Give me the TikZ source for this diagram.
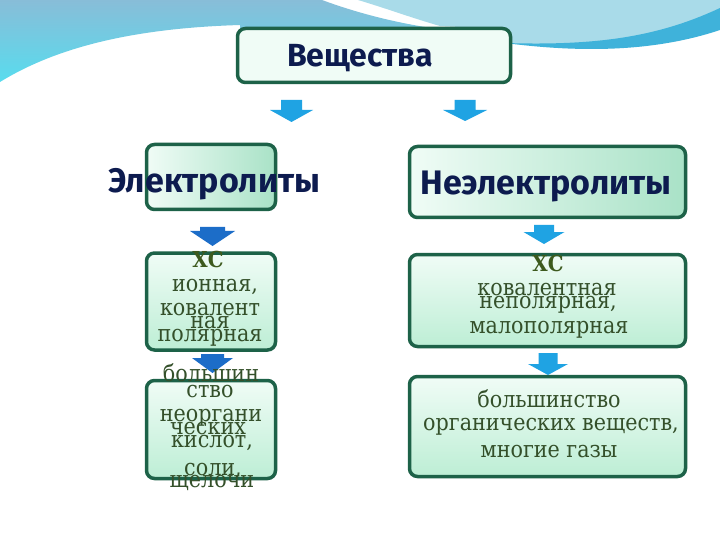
\documentclass[tikz,border=0pt]{standalone}
\usepackage{fontspec}
\setmainfont{DejaVu Serif Condensed}
\newfontfamily\headfont{Fira Sans}
\definecolor{bord}{HTML}{1D6248}
\definecolor{navy}{HTML}{0D1B4F}
\definecolor{txtg}{HTML}{34502A}
\definecolor{xsg}{HTML}{3D5A1E}
\definecolor{arrl}{HTML}{1FA3E3}
\definecolor{arrd}{HTML}{1C6DC8}
\definecolor{bgtop}{HTML}{88BDD8}
\definecolor{bgcyan}{HTML}{58DCEE}
\definecolor{bglight}{HTML}{A9DBE9}
\definecolor{bgband}{HTML}{3FB2DA}
\definecolor{mintA}{HTML}{F0FCF6}
\definecolor{mintB}{HTML}{BDEED5}
\definecolor{mintC}{HTML}{A9E2C7}
\tikzset{pics/barr/.style args={#1/#2/#3/#4/#5}{code={
  \fill[#5] ({-(#3)/2},0) -- ({(#3)/2},0) -- ({(#3)/2},#4) -- ({(#1)/2},#4) -- (0,#2)
    -- ({-(#1)/2},#4) -- ({-(#3)/2},#4) -- cycle;}}}
\begin{document}
\begin{tikzpicture}[x=1pt,y=-1pt,
  box/.style={draw=bord, line width=3.5pt, rounded corners=8pt, inner sep=0pt, outer sep=0pt},
  hshade/.style={left color=mintA, right color=mintC},
  tshade/.style={left color=mintA, middle color=mintB, right color=mintA},
  vshade/.style={top color=mintA, bottom color=mintB},
  head/.style={font=\headfont\bfseries\fontsize{34}{40}\selectfont, text=navy, inner sep=0pt, anchor=base},
  body/.style={font=\fontsize{23}{26}\selectfont, text=txtg, inner sep=0pt, anchor=base},
  xs/.style={font=\bfseries\fontsize{22}{26}\selectfont, text=xsg, inner sep=0pt, anchor=base}
]
\useasboundingbox (0,0) rectangle (720,540);
\fill[white] (0,0) rectangle (720,540);
% background top
\shade[top color=bgtop, bottom color=bgcyan]
  (0,0) -- (322,0) .. controls (360,14) and (400,24) .. (445,30) -- (445,45) -- (240,45) -- (240,25)
  .. controls (140,28) and (60,45) .. (0,82) -- cycle;
\fill[bglight]
  (358,0) -- (720,0) -- (720,10) .. controls (660,36) and (600,46) .. (515,44) -- (480,44) -- (480,28)
  -- (440,26) .. controls (412,18) and (385,8) .. (358,0) -- cycle;
\fill[bgband]
  (720,8) .. controls (660,36) and (600,46) .. (505,43)
  .. controls (590,54) and (660,50) .. (720,30) -- cycle;
% boxes
\node[box, tshade, minimum width=273pt, minimum height=54pt] (vesh) at (374,55.5) {};
\node[box, hshade, minimum width=129pt, minimum height=65pt] (el) at (211,177) {};
\node[box, hshade, minimum width=276pt, minimum height=71pt] (nel) at (547.5,182) {};
\node[box, vshade, minimum width=129pt, minimum height=97pt] (lb2) at (211,301.5) {};
\node[box, vshade, minimum width=129pt, minimum height=98pt] (lb3) at (211,429.5) {};
\node[box, vshade, minimum width=276pt, minimum height=92pt] (rb2) at (547.5,300.5) {};
\node[box, vshade, minimum width=276pt, minimum height=100pt] (rb3) at (547.5,426.5) {};
% arrows
\pic (a1) at (291.5,100) {barr={43/22/21/10/arrl}};
\pic (a2) at (465,100) {barr={44/21/21/10/arrl}};
\pic (a3) at (212.5,227) {barr={45/19/25/4/arrd}};
\pic (a4) at (212.5,354) {barr={41/19/23/4/arrd}};
\pic (a5) at (544,225) {barr={41/19/20/7/arrl}};
\pic (a6) at (548,353) {barr={40/22/19/11/arrl}};
% headings
\node[head, font=\headfont\bfseries\fontsize{32}{38}\selectfont] (tv) at (360,67) {Вещества};
\node[head] (te) at (214,193) {Электролиты};
\node[head] (tn) at (546,195) {Неэлектролиты};
% left box 2
\node[xs] (lx) at (208,267) {ХС};
\node[body] (l1) at (215,291) {ионная,};
\node[body] (l2) at (210,315) {ковалент};
\node[body] (l3) at (210,328) {ная};
\node[body] (l4) at (210,341) {полярная};
% left box 3
\node[body] (m1) at (211,381) {большин};
\node[body] (m2) at (210,397) {ство};
\node[body] (m3) at (211,421) {неоргани};
\node[body] (m4) at (208,434) {ческих};
\node[body] (m5) at (212,447) {кислот,};
\node[body] (m6) at (213,475) {соли,};
\node[body] (m7) at (212,487) {щелочи};
% right box 2
\node[xs] (rx) at (548,271) {ХС};
\node[body] (r1) at (547,295) {ковалентная};
\node[body] (r2) at (548,308) {неполярная,};
\node[body] (r3) at (549,333) {малополярная};
% right box 3
\node[body] (s1) at (549,407) {большинство};
\node[body] (s2) at (551,430) {органических веществ,};
\node[body] (s3) at (549,457) {многие газы};
\end{tikzpicture}
\end{document}
